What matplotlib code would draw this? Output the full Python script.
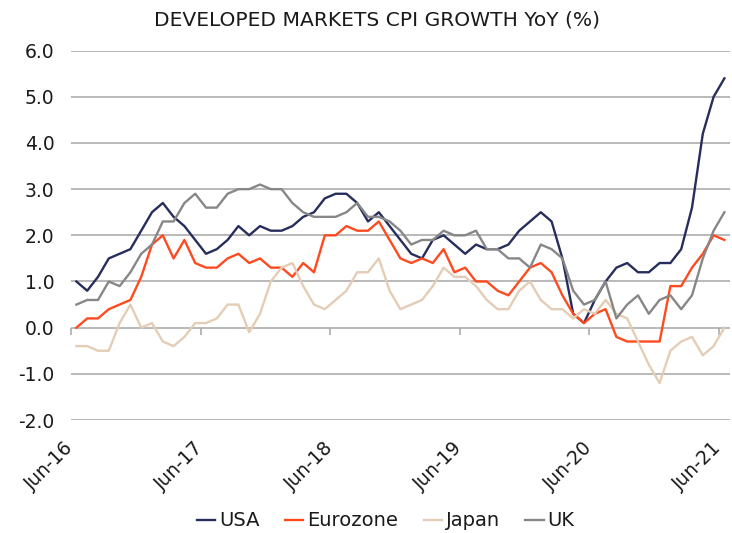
import matplotlib.pyplot as plt
import matplotlib.transforms as mtransforms
import pandas as pd

months = pd.date_range('2016-06-01', periods=61, freq='MS')

usa = [1.0, 0.8, 1.1, 1.5, 1.6, 1.7, 2.1,
       2.5, 2.7, 2.4, 2.2, 1.9, 1.6, 1.7, 1.9, 2.2, 2.0, 2.2, 2.1,
       2.1, 2.2, 2.4, 2.5, 2.8, 2.9, 2.9, 2.7, 2.3, 2.5, 2.2, 1.9,
       1.6, 1.5, 1.9, 2.0, 1.8, 1.6, 1.8, 1.7, 1.7, 1.8, 2.1, 2.3,
       2.5, 2.3, 1.5, 0.3, 0.1, 0.6, 1.0, 1.3, 1.4, 1.2, 1.2, 1.4,
       1.4, 1.7, 2.6, 4.2, 5.0, 5.4]
eurozone = [0.0, 0.2, 0.2, 0.4, 0.5, 0.6, 1.1,
            1.8, 2.0, 1.5, 1.9, 1.4, 1.3, 1.3, 1.5, 1.6, 1.4, 1.5, 1.3,
            1.3, 1.1, 1.4, 1.2, 2.0, 2.0, 2.2, 2.1, 2.1, 2.3, 1.9, 1.5,
            1.4, 1.5, 1.4, 1.7, 1.2, 1.3, 1.0, 1.0, 0.8, 0.7, 1.0, 1.3,
            1.4, 1.2, 0.7, 0.3, 0.1, 0.3, 0.4, -0.2, -0.3, -0.3, -0.3, -0.3,
            0.9, 0.9, 1.3, 1.6, 2.0, 1.9]
japan = [-0.4, -0.4, -0.5, -0.5, 0.1, 0.5, 0.0,
         0.1, -0.3, -0.4, -0.2, 0.1, 0.1, 0.2, 0.5, 0.5, -0.1, 0.3, 1.0,
         1.3, 1.4, 0.9, 0.5, 0.4, 0.6, 0.8, 1.2, 1.2, 1.5, 0.8, 0.4,
         0.5, 0.6, 0.9, 1.3, 1.1, 1.1, 0.9, 0.6, 0.4, 0.4, 0.8, 1.0,
         0.6, 0.4, 0.4, 0.2, 0.4, 0.3, 0.6, 0.3, 0.2, -0.3, -0.8, -1.2,
         -0.5, -0.3, -0.2, -0.6, -0.4, 0.0]
uk = [0.5, 0.6, 0.6, 1.0, 0.9, 1.2, 1.6,
      1.8, 2.3, 2.3, 2.7, 2.9, 2.6, 2.6, 2.9, 3.0, 3.0, 3.1, 3.0,
      3.0, 2.7, 2.5, 2.4, 2.4, 2.4, 2.5, 2.7, 2.4, 2.4, 2.3, 2.1,
      1.8, 1.9, 1.9, 2.1, 2.0, 2.0, 2.1, 1.7, 1.7, 1.5, 1.5, 1.3,
      1.8, 1.7, 1.5, 0.8, 0.5, 0.6, 1.0, 0.2, 0.5, 0.7, 0.3, 0.6,
      0.7, 0.4, 0.7, 1.5, 2.1, 2.5]

SERIES = [
    ('USA', usa, '#272E5C'),
    ('Eurozone', eurozone, '#FF4A20'),
    ('Japan', japan, '#E4CDB6'),
    ('UK', uk, '#878787'),
]
GRID = '#A6A6A6'
TEXT = '#1A1A1A'

fig, ax = plt.subplots(figsize=(7.32, 5.33), dpi=100)
fig.subplots_adjust(left=0.097, right=0.997, top=0.905, bottom=0.212)

x = range(len(months))
for name, vals, color in SERIES:
    ax.plot(x, vals, color=color, lw=1.7, label=name, solid_joinstyle='round')

ax.set_xlim(-0.5, len(months) - 0.5)
ax.set_ylim(-2, 6)
yt = list(range(-2, 7))
ax.set_yticks(yt)
ax.set_yticklabels([f'{v:.1f}' for v in yt])
ax.grid(axis='y', color=GRID, lw=1.1)
ax.set_axisbelow(True)
for s in ax.spines.values():
    s.set_visible(False)
ax.tick_params(axis='y', length=0, pad=12, labelsize=13.5, labelcolor=TEXT)

tick_idx = list(range(0, len(months), 12))
ax.set_xticks([i - 0.5 for i in tick_idx])
ax.set_xticklabels([months[i].strftime('%b-%y') for i in tick_idx],
                   rotation=45, ha='right', va='top', rotation_mode='anchor')
ax.tick_params(axis='x', length=0, pad=13, labelsize=13.5, labelcolor=TEXT)
shift = mtransforms.ScaledTranslation(-5 / 72, 0, fig.dpi_scale_trans)
for lbl in ax.get_xticklabels():
    lbl.set_transform(lbl.get_transform() + shift)

# tick marks on the zero line
zero = ax.secondary_xaxis(2 / 8)
zero.set_xticks([i - 0.5 for i in tick_idx])
zero.tick_params(length=5, color=GRID, width=1.1, labelbottom=False)
zero.spines['bottom'].set_visible(False)

fig.text(0.515, 1 - 20 / 533, 'DEVELOPED MARKETS CPI GROWTH YoY (%)',
         ha='center', va='center', fontsize=14.6, color=TEXT)
fig.legend(ncol=4, loc='center', bbox_to_anchor=(0.527, 1 - 521 / 533),
           frameon=False, handlelength=0.95, handletextpad=0.2,
           columnspacing=1.3, fontsize=14, labelcolor=TEXT)

fig.savefig('out.png', dpi=100)
